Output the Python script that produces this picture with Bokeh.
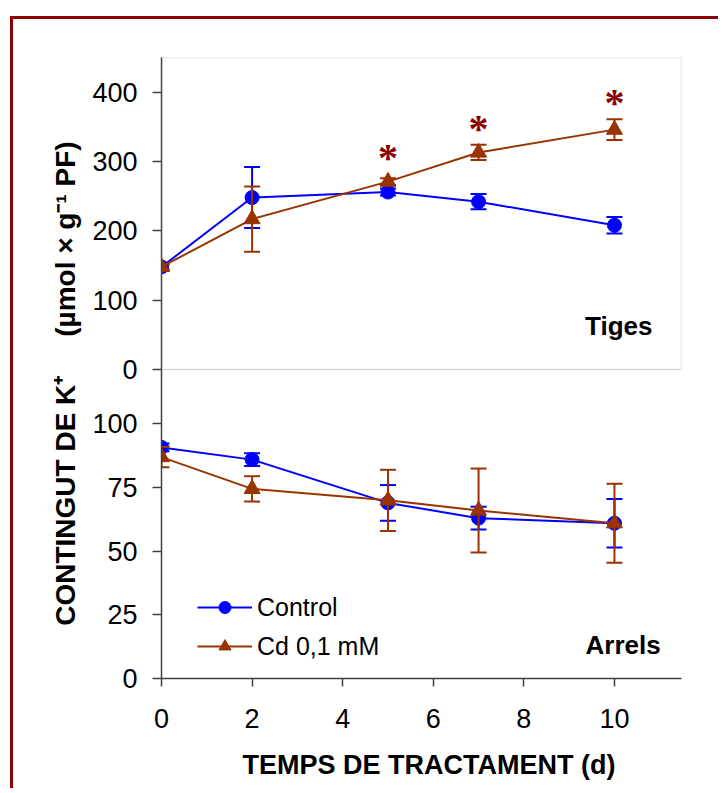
from bokeh.plotting import figure
from bokeh.models import (Range1d, FixedTicker, CustomJSTickFormatter, Label,
                          BoxAnnotation, Legend, LegendItem)
from bokeh.core.properties import value
from bokeh.embed import file_html
from bokeh.resources import INLINE

# ---------------- data ----------------
days = [0, 2, 5, 7, 10]

tiges_control = [148, 248, 256, 242, 208]
tiges_control_err = [4, 44, 5, 11, 12]
tiges_cd = [148, 217, 271, 313, 346]
tiges_cd_err = [4, 47, 5, 11, 15]

arrels_control = [90.8, 86, 69, 63, 61]
arrels_control_err = [1.5, 2.5, 7, 4.5, 9.5]
arrels_cd = [87, 74.5, 70, 66, 61]
arrels_cd_err = [4, 5, 12, 16.5, 15.5]

sig_days = [5, 7, 10]
sig_level = [312, 353, 391]

x_ticks = [0, 2, 4, 6, 8, 10]
top_ticks = [0, 100, 200, 300, 400]
bottom_ticks = [0, 25, 50, 75, 100]

series_names = ["Control", "Cd 0,1 mM"]
panel_names = ["Tiges", "Arrels"]
NB = "\u00A0"
x_title = NB * 2 + "TEMPS DE TRACTAMENT (d)"
y_title = ("CONTINGUT DE K\u207A" + NB * 5 + "(\u00B5mol \u00D7 g\u207B\u00B9 PF)"
           + NB * 4)

# ---------------- styles ----------------
BLUE = "#0000FF"
BROWN = "#993300"
DARKRED = "#8B0000"
AXIS = "#404040"
FRAME = "#808080"
FONT = "Liberation Sans"

# ranges: bottom panel uses main y range, top panel an extra range aligned on top
B_END = 244.0
SPLIT = 121.4
TOP_MAX = 450.0
k = TOP_MAX / (B_END - SPLIT)
TOP_START = -SPLIT * k
X_END = 11.48


def to_main(v):
    return SPLIT + v / k


p = figure(width=708, height=772, output_backend="svg", toolbar_location=None,
           x_range=Range1d(0, X_END), y_range=Range1d(0, B_END),
           min_border_left=148, min_border_right=40, min_border_top=38,
           min_border_bottom=113,
           styles={"margin-left": "10px", "margin-top": "16px",
                   "border-left": "3px solid " + DARKRED,
                   "border-top": "3px solid " + DARKRED})
p.extra_y_ranges = {"top": Range1d(TOP_START, TOP_MAX)}
p.grid.visible = False
p.outline_line_color = None
p.background_fill_color = "white"
p.border_fill_color = "white"

# x axis
xa = p.xaxis[0]
xa.ticker = FixedTicker(ticks=x_ticks)
xa.major_label_text_font = FONT
xa.major_label_text_font_size = "27px"
xa.major_label_text_color = "black"
xa.major_tick_out = 8
xa.major_tick_in = 0
xa.minor_tick_out = 0
xa.minor_tick_in = 0
xa.axis_line_color = AXIS
xa.axis_line_width = 1.5
xa.major_tick_line_color = AXIS
xa.major_tick_line_width = 1.5
xa.major_label_standoff = 22
xa.axis_label = x_title
xa.axis_label_text_font = FONT
xa.axis_label_text_font_size = "27px"
xa.axis_label_text_font_style = "bold"
xa.axis_label_text_color = "black"
xa.axis_label_standoff = 19

# y axis (combined ticks for both panels)
ya = p.yaxis[0]
tick_pos = list(bottom_ticks) + [to_main(v) for v in top_ticks]
tick_lab = [str(v) for v in bottom_ticks] + [str(v) for v in top_ticks]
ya.ticker = FixedTicker(ticks=tick_pos)
ya.formatter = CustomJSTickFormatter(args=dict(pos=tick_pos, labs=tick_lab), code="""
let best = 0; let d = 1e12;
for (let i = 0; i < pos.length; i++) {
  const dd = Math.abs(pos[i] - tick);
  if (dd < d) { d = dd; best = i; }
}
return labs[best];
""")
ya.major_label_text_font = FONT
ya.major_label_text_font_size = "27px"
ya.major_label_text_color = "black"
ya.major_tick_out = 9
ya.major_tick_in = 0
ya.minor_tick_out = 0
ya.minor_tick_in = 0
ya.axis_line_color = AXIS
ya.axis_line_width = 1.5
ya.major_tick_line_color = AXIS
ya.major_tick_line_width = 1.5
ya.major_label_standoff = 15
ya.axis_label = y_title
ya.axis_label_text_font = FONT
ya.axis_label_text_font_size = "28px"
ya.axis_label_text_font_style = "bold"
ya.axis_label_text_color = "black"
ya.axis_label_standoff = 8

# top panel frame
p.add_layout(BoxAnnotation(left=0, right=X_END, bottom=0, top=TOP_MAX,
                           y_range_name="top", fill_alpha=0,
                           line_color=FRAME, line_width=1.5))


def series(xs, ys, errs, color, marker, size, rng):
    kw = {} if rng is None else {"y_range_name": rng}
    lo = [v - e for v, e in zip(ys, errs)]
    hi = [v + e for v, e in zip(ys, errs)]
    p.segment(x0=xs, y0=lo, x1=xs, y1=hi, line_color=color, line_width=2, **kw)
    p.scatter(xs, lo, marker="dash", size=16, line_color=color, line_width=2, **kw)
    p.scatter(xs, hi, marker="dash", size=16, line_color=color, line_width=2, **kw)
    ln = p.line(xs, ys, line_color=color, line_width=2, **kw)
    sc = p.scatter(xs, ys, marker=marker, size=size, fill_color=color,
                   line_color=color, **kw)
    return ln, sc


# top panel (Tiges)
series(days, tiges_control, tiges_control_err, BLUE, "circle", 14, "top")
series(days, tiges_cd, tiges_cd_err, BROWN, "triangle", 16, "top")

# bottom panel (Arrels)
lc, sc_c = series(days, arrels_control, arrels_control_err, BLUE, "circle", 14, None)
lcd, sc_cd = series(days, arrels_cd, arrels_cd_err, BROWN, "triangle", 16, None)

# significance stars
p.text(x=sig_days, y=sig_level, text=["*"] * len(sig_days), y_range_name="top",
       text_font=value("Liberation Serif"), text_font_size="40px",
       text_font_style="bold", text_color=DARKRED, text_align="center",
       text_baseline="alphabetic", y_offset=4)

# panel names
p.add_layout(Label(x=10.84, y=63, y_range_name="top", text=panel_names[0],
                   text_font=FONT, text_font_size="26px", text_font_style="bold",
                   text_align="right", text_baseline="middle", text_color="black"))
p.add_layout(Label(x=11.02, y=13, text=panel_names[1],
                   text_font=FONT, text_font_size="26px", text_font_style="bold",
                   text_align="right", text_baseline="middle", text_color="black"))

# legend
legend = Legend(items=[LegendItem(label=series_names[0], renderers=[lc, sc_c]),
                       LegendItem(label=series_names[1], renderers=[lcd, sc_cd])],
                location=(36, 17), padding=0, margin=0, spacing=9,
                glyph_width=55, glyph_height=30, label_height=30,
                label_standoff=5, border_line_color=None,
                background_fill_alpha=0,
                label_text_font=FONT, label_text_font_size="25px",
                label_text_color="black")
p.add_layout(legend)

open("out.html", "w").write(file_html(p, INLINE))
